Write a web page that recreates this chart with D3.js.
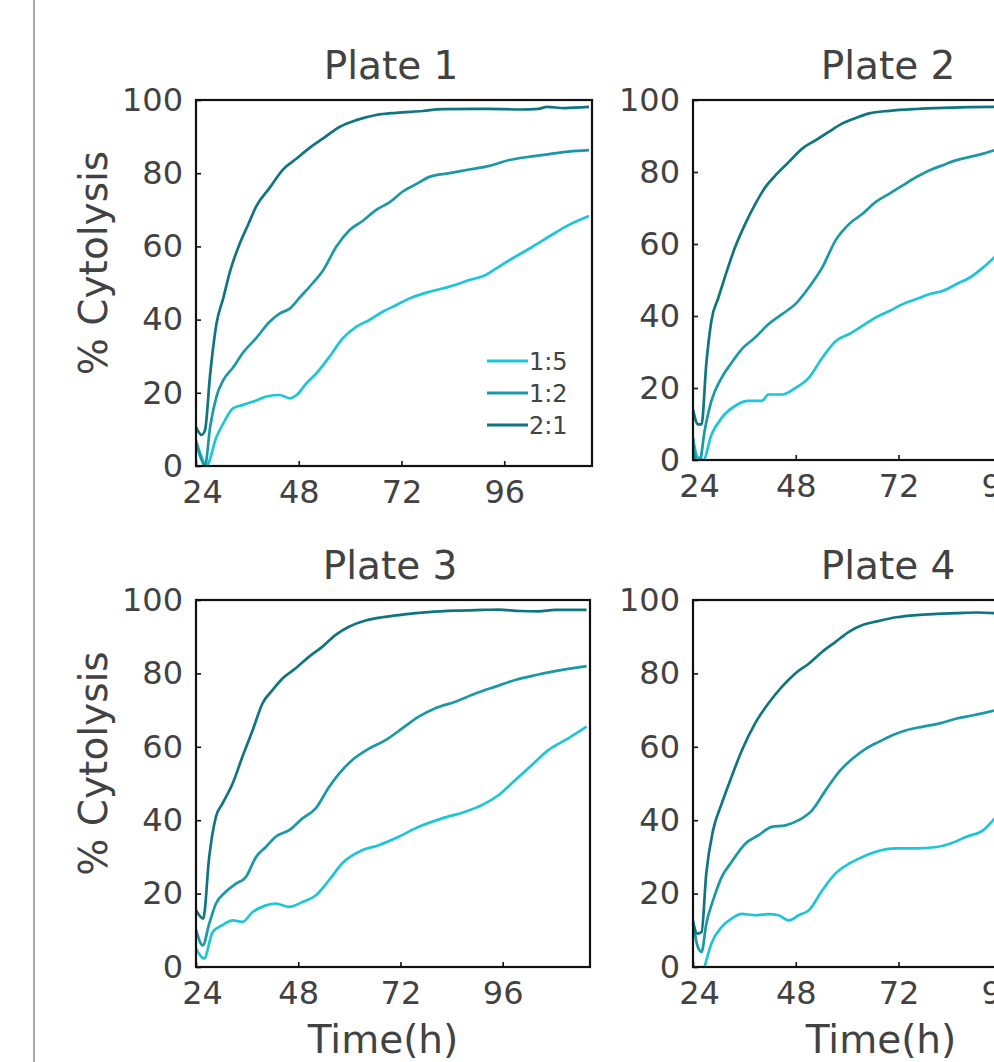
<!DOCTYPE html>
<html>
<head>
<meta charset="utf-8">
<script src="https://cdn.jsdelivr.net/npm/d3@7"></script>
<style>
  html, body { margin: 0; padding: 0; background: #fff; overflow: hidden; }
  text { font-family: "DejaVu Sans", sans-serif; fill: #424242; }
</style>
</head>
<body>
<div id="chart"></div>
<script>
// ---- data (time in h, % cytolysis) ----
const ratios = ["1:5", "1:2", "2:1"];
const plateNames = ["Plate 1", "Plate 2", "Plate 3", "Plate 4"];
const xTicks = [24, 48, 72, 96];
const yTicks = [0, 20, 40, 60, 80, 100];

const plate1_15 = [[24,7],[25.3,2.5],[26.4,0],[28.8,8],[30.4,11.7],[32.7,15.8],[35,16.7],[37.4,17.6],[40.5,19],[43.6,19.4],[45.9,18.5],[47.5,19.4],[49.8,22.6],[52.1,25.3],[55.2,29.9],[58.3,34.9],[61.4,38],[64.5,39.9],[67.7,42.2],[70.8,44],[73.9,45.8],[78.5,47.6],[83.2,49],[87.8,50.8],[91.7,52.2],[94.8,54.5],[97.9,56.7],[102.6,59.9],[106.5,62.7],[111,65.8],[115.8,68.3]];
const plate1_12 = [[24,6.5],[25.2,2],[26.1,0],[27.3,10.7],[28.8,19],[30.4,23.5],[32.7,27],[35,31],[38.1,35],[41.2,39.4],[43.6,41.7],[45.9,43],[48.2,46],[51.3,50],[53.7,53.5],[56.8,60],[59.9,64.5],[63,67],[66.1,70],[69.2,72],[72.3,75],[75.4,77],[78.5,79],[83.2,80],[87.8,81],[92.5,82],[97.2,83.6],[101.8,84.5],[106.5,85.2],[111,85.9],[115.8,86.3]];
const plate1_21 = [[24,10.6],[25.3,8.5],[26.1,9.8],[27.3,25],[28.8,39],[30.4,46],[31.9,53],[34.3,61],[36.2,66],[38.1,71],[41.2,76],[44.3,81],[47.5,84],[50.6,87],[53.7,89.5],[57.6,92.7],[61.4,94.5],[66.1,95.9],[70.8,96.5],[77,97],[81.6,97.5],[92.5,97.6],[100,97.4],[104,97.6],[106,98.1],[110,97.8],[115.8,98.1]];

const plate2_15 = [[24,6],[25,1],[26.4,0],[28.3,7],[30.7,11.7],[33.8,15],[36.9,16.4],[40.1,16.4],[41.6,18.2],[44.8,18.2],[47.9,20],[51.1,22.9],[54.2,28.4],[57.3,33],[60.5,35],[63.6,37.3],[66.7,39.6],[69.9,41.4],[73,43.3],[76.2,44.7],[79.3,46.1],[82.4,47],[85.6,48.9],[88.7,50.7],[91.8,53.5],[94.8,56.8]];
const plate2_12 = [[24,6],[24.8,0],[25.6,0],[26.7,8],[28.3,16.4],[30.7,22.9],[33,27],[35.4,30.8],[38.5,34],[41.6,37.7],[44.8,40.5],[47.9,43.3],[51.1,48],[54.2,53.5],[57.3,61],[60.5,65.6],[63.6,68.4],[66.7,71.7],[69.9,74],[73,76.3],[76.2,78.6],[79.3,80.5],[82.4,81.9],[85.6,83.3],[88.7,84.2],[91.8,85.1],[94.8,86.2]];
const plate2_21 = [[24,14],[25.2,9.9],[26,9.9],[27.1,26.6],[28.3,38.7],[29.9,45],[31.5,51],[33.8,59],[36.2,65.6],[38.5,71],[40.9,75.8],[43.2,79],[46.4,82.8],[49.5,86.5],[52.6,88.8],[55.8,91.2],[58.9,93.5],[62,95],[65.2,96.3],[69.9,97],[76.2,97.5],[82.4,97.8],[88.7,98],[94.8,98.1]];

const plate3_15 = [[24,5],[25.9,2.3],[27.9,9.5],[30.2,11.4],[32.6,12.7],[34.9,12.3],[37.3,15],[40.4,16.8],[42.7,17.3],[45.9,16.4],[49,17.7],[52.1,19.5],[55.2,23.6],[58.3,28.2],[63,31.8],[66.9,33.2],[71.6,35.5],[76.3,38.2],[81.8,40.5],[87.2,42.3],[91.1,44.1],[95,46.8],[98.9,50.9],[102.8,55],[106.7,59.1],[111.4,62.3],[115.7,65.5]];
const plate3_12 = [[24,10.2],[25.6,5.9],[27.1,11.8],[28.7,17.3],[31,20.5],[33.4,22.7],[35.7,24.5],[38.1,30],[40.4,32.7],[42.7,35.5],[45.9,37.3],[49,40.5],[52.1,43.2],[55.2,49],[57.6,52.7],[60.7,56.4],[64.6,59.5],[68.5,61.8],[72.4,65],[76.3,68.2],[80.2,70.5],[84.9,72.3],[89.6,74.5],[94.3,76.4],[98.9,78.2],[103.6,79.5],[108.3,80.6],[115.7,82]];
const plate3_21 = [[24,15.5],[25.7,13.2],[27.1,30],[28.7,41],[30.2,44.5],[32.6,50],[34.9,57.3],[37.3,64.5],[39.6,71.8],[42,75.5],[44.3,78.6],[47.4,81.4],[50.5,84.5],[53.7,87.3],[56.8,90.5],[59.9,92.7],[63.8,94.4],[67.7,95.3],[72.4,96],[78.6,96.7],[84.9,97.1],[91.1,97.3],[95,97.4],[100,97],[104.4,96.9],[108.3,97.3],[115.7,97.3]];

const plate4_15 = [[26.7,0],[28.3,6.4],[30.7,10.9],[33,13.2],[35.4,14.5],[38.5,14.1],[41.6,14.4],[44,14.1],[46.4,12.7],[48.7,14.1],[51.1,15.5],[54.2,20.9],[57.3,25.5],[60.5,28.2],[63.6,30],[66.7,31.4],[71.5,32.3],[76.2,32.3],[80.9,32.7],[84,33.6],[87.9,35.5],[91.8,37.3],[94.8,40.9]];
const plate4_12 = [[24,12.7],[25,5.9],[26,4.1],[27.1,11.8],[28.7,18.2],[30.7,24.5],[33,28.6],[36.2,33.6],[39.3,35.9],[42.4,38.2],[45.6,38.6],[48.7,40],[51.8,42.7],[55,48.2],[58.1,53.2],[61.3,56.8],[64.4,59.5],[67.5,61.4],[70.7,63.2],[73.8,64.5],[77.7,65.5],[81.6,66.4],[85.6,67.7],[89.5,68.6],[94.8,70]];
const plate4_21 = [[24,12.3],[25,9.1],[26,9.5],[27.1,25.5],[28.7,37.3],[30.7,44.5],[33,51.8],[35.4,59],[38.5,66.4],[41.6,71.8],[44.8,76.4],[47.9,80],[51.1,82.7],[54.2,85.9],[57.3,88.6],[60.5,91.4],[63.6,93.2],[66.7,94.1],[71.5,95.3],[76.2,95.9],[80.9,96.2],[85.6,96.4],[90.3,96.6],[94.8,96.4]];

const plateSeries = [
  [plate1_15, plate1_12, plate1_21],
  [plate2_15, plate2_12, plate2_21],
  [plate3_15, plate3_12, plate3_21],
  [plate4_15, plate4_12, plate4_21]
];

// ---- layout ----
const W = 994, H = 1062;
const colors = ["#1cc6d6", "#1a98a6", "#0f7580"];

const panels = [
  { x0: 196, x1: 592, y0: 100, y1: 466, yLabel: true,  xLabel: false, legend: true },
  { x0: 693, x1: 1089, y0: 100, y1: 460, yLabel: false, xLabel: false, legend: false },
  { x0: 196, x1: 590, y0: 600, y1: 967, yLabel: true,  xLabel: true,  legend: false },
  { x0: 693, x1: 1089, y0: 600, y1: 967, yLabel: false, xLabel: true,  legend: false }
];

const svg = d3.select("#chart")
  .append("svg")
  .attr("width", W)
  .attr("height", H)
  .style("display", "block");

// thin grey rule at the left of the figure
svg.append("line")
  .attr("x1", 34).attr("x2", 34)
  .attr("y1", 0).attr("y2", H)
  .attr("stroke", "#8c8c8c")
  .attr("stroke-width", 1.5);

panels.forEach((p, i) => {
  const x = d3.scaleLinear().domain([24, 116.5]).range([p.x0, p.x1]);
  const y = d3.scaleLinear().domain([0, 100]).range([p.y1, p.y0]);

  const g = svg.append("g");

  g.append("clipPath")
    .attr("id", "clip" + i)
    .append("rect")
    .attr("x", p.x0).attr("y", p.y0)
    .attr("width", p.x1 - p.x0).attr("height", p.y1 - p.y0);

  const line = d3.line()
    .x(d => x(d[0]))
    .y(d => y(d[1]))
    .curve(d3.curveMonotoneX);

  // draw lightest first so the dark series sits on top
  plateSeries[i].forEach((s, k) => {
    g.append("path")
      .datum(s)
      .attr("clip-path", `url(#clip${i})`)
      .attr("fill", "none")
      .attr("stroke", colors[k])
      .attr("stroke-width", 2.7)
      .attr("stroke-linejoin", "round")
      .attr("d", line);
  });

  // axes: inward ticks, domain replaced by a frame
  const yAxis = g.append("g")
    .attr("transform", `translate(${p.x0},0)`)
    .call(d3.axisLeft(y).tickValues(yTicks).tickSize(-5).tickPadding(13));
  yAxis.select(".domain").remove();
  yAxis.selectAll("line").attr("stroke", "#111").attr("stroke-width", 1.6);
  yAxis.selectAll("text")
    .style("font-family", '"DejaVu Sans", sans-serif')
    .style("font-size", "32px")
    .attr("fill", "#424242");

  const xAxis = g.append("g")
    .attr("transform", `translate(0,${p.y1})`)
    .call(d3.axisBottom(x).tickValues(xTicks).tickSize(-5).tickPadding(14));
  xAxis.select(".domain").remove();
  xAxis.selectAll("line").attr("stroke", "#111").attr("stroke-width", 1.6);
  xAxis.selectAll("text")
    .style("font-family", '"DejaVu Sans", sans-serif')
    .style("font-size", "32px")
    .attr("fill", "#424242")
    .attr("dx", d => d === 24 ? 6 : 0);

  g.append("rect")
    .attr("x", p.x0).attr("y", p.y0)
    .attr("width", p.x1 - p.x0).attr("height", p.y1 - p.y0)
    .attr("fill", "none")
    .attr("stroke", "#111")
    .attr("stroke-width", 2.2);

  g.append("text")
    .attr("x", (p.x0 + p.x1) / 2 - 3)
    .attr("y", p.y0 - 21)
    .attr("text-anchor", "middle")
    .style("font-size", "39px")
    .text(plateNames[i]);

  if (p.yLabel) {
    const cy = (p.y0 + p.y1) / 2 - 20;
    g.append("text")
      .attr("transform", `translate(107,${cy}) rotate(-90)`)
      .attr("text-anchor", "middle")
      .style("font-size", "39px")
      .text("% Cytolysis");
  }

  if (p.xLabel) {
    g.append("text")
      .attr("x", (p.x0 + p.x1) / 2 - 10)
      .attr("y", 1053)
      .attr("text-anchor", "middle")
      .style("font-size", "39px")
      .text("Time(h)");
  }

  if (p.legend) {
    const lg = g.append("g");
    ratios.forEach((r, k) => {
      const ly = 361 + k * 32;
      lg.append("line")
        .attr("x1", 487).attr("x2", 528)
        .attr("y1", ly).attr("y2", ly)
        .attr("stroke", colors[k])
        .attr("stroke-width", 3);
      lg.append("text")
        .attr("x", 529)
        .attr("y", ly)
        .attr("dy", "0.36em")
        .style("font-size", "24px")
        .text(r);
    });
  }
});
</script>
</body>
</html>
